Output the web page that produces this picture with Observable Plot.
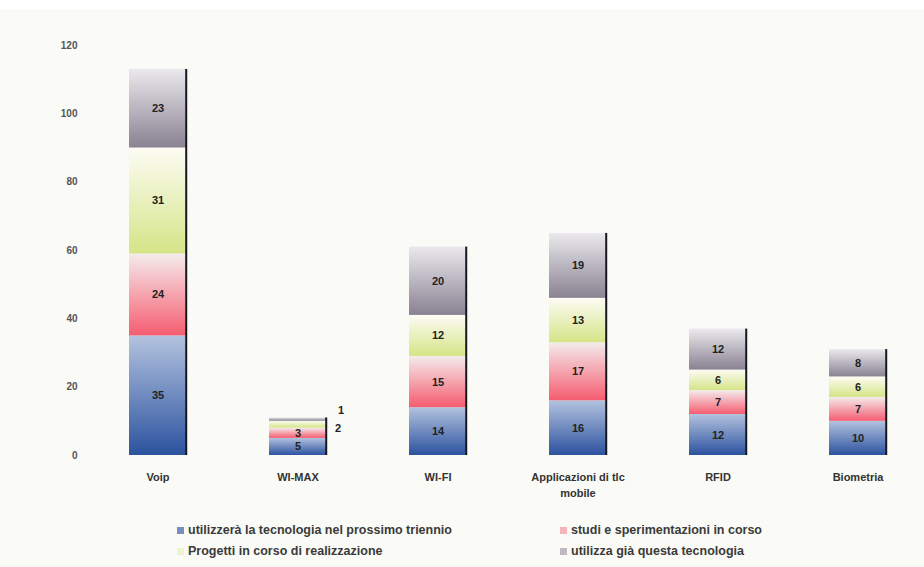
<!DOCTYPE html>
<html>
<head>
<meta charset="utf-8">
<script src="https://cdn.jsdelivr.net/npm/d3@7"></script>
<script src="https://cdn.jsdelivr.net/npm/@observablehq/plot@0.6"></script>
<style>
  html, body { margin: 0; padding: 0; background: #fafaf6; }
  body { width: 924px; height: 567px; position: relative; overflow: hidden;
         font-family: "Liberation Sans", Arial, sans-serif; }
  #topband { position: absolute; left: 0; top: 0; width: 924px; height: 9px; background: #ffffff; }
  #chart { position: absolute; left: 0; top: 0; }
  #legend { position: absolute; left: 0; top: 500px; width: 924px; height: 67px;
            font-size: 12.5px; font-weight: bold; color: #3a3a3a; }
  .item { position: absolute; display: flex; align-items: center; white-space: nowrap; line-height: 14px; }
  .sw { width: 7px; height: 7px; margin-right: 4px; }
</style>
</head>
<body>
<div id="topband"></div>
<div id="chart"></div>
<div id="legend"></div>
<script>
// Technologies (x categories)
const categories = ["Voip", "WI-MAX", "WI-FI", "Applicazioni di tlc\nmobile", "RFID", "Biometria"];

// Series names, bottom to top of each stack
const seriesNames = [
  "utilizzerà la tecnologia nel prossimo triennio",
  "studi e sperimentazioni in corso",
  "Progetti in corso di realizzazione",
  "utilizza già questa tecnologia"
];

// Values per series, one per technology
const prossimoTriennio = [35, 5, 14, 16, 12, 10];
const studiSperimentazioni = [24, 3, 15, 17, 7, 7];
const progettiInCorso = [31, 2, 12, 13, 6, 6];
const utilizzaGia = [23, 1, 20, 19, 12, 8];

// Y axis ticks
const yTicks = [0, 20, 40, 60, 80, 100, 120];

const seriesValues = [prossimoTriennio, studiSperimentazioni, progettiInCorso, utilizzaGia];

// Vertical gradients for each series: light at the top, saturated at the bottom
const gradients = [
  {top: "#b3c3df", bottom: "#2c529f"},
  {top: "#f4ecec", bottom: "#f55c70"},
  {top: "#fcfcf4", bottom: "#d6e487"},
  {top: "#ebe9ed", bottom: "#898292"}
];
const swatches = ["#7a8dbd", "#f4b4ba", "#eef2cf", "#bdbac1"];

const rows = categories.flatMap((category, i) =>
  seriesValues.map((vals, s) => ({category, series: seriesNames[s], si: s, value: vals[i]}))
);
const totals = categories.map((category, i) => ({
  category,
  total: d3.sum(seriesValues, vals => vals[i])
}));

const width = 924, height = 500;
const marginLeft = 101, marginRight = 9;
const paddingInner = 0.59, paddingOuter = 0.2;
const step = (width - marginLeft - marginRight) / (categories.length - paddingInner + 2 * paddingOuter);
const bandwidth = step * (1 - paddingInner);

const labelFont = {fontSize: 11, fontWeight: "bold", fill: "#222"};

const chart = Plot.plot({
  width, height,
  marginTop: 45, marginBottom: 45, marginLeft, marginRight,
  style: {background: "transparent", fontFamily: "Liberation Sans, Arial, sans-serif"},
  x: {domain: categories, paddingInner, paddingOuter, label: null},
  y: {domain: [0, 120], ticks: yTicks, label: null},
  color: {domain: seriesNames, range: seriesNames.map((_, s) => `url(#grad${s})`)},
  marks: [
    Plot.axisY({ticks: yTicks, tickSize: 0, tickPadding: 24, fontSize: 10, fontWeight: "bold", fill: "#555", label: null}),
    Plot.axisX({tickSize: 0, tickPadding: 14, fontSize: 11, fontWeight: "bold", fill: "#333", label: null, lineHeight: 1.45}),
    Plot.barY(rows, {x: "category", y: "value", fill: "series", order: null}),
    Plot.ruleX(totals, {x: "category", y1: 0, y2: "total", dx: bandwidth / 2 - 0.5, stroke: "#16161e", strokeWidth: 2}),
    // labels inside segments
    Plot.text(rows, Plot.filter(d => d.value >= 3,
      Plot.stackY({x: "category", y: "value", text: "value", order: null, ...labelFont}))),
    // labels of thin segments, set beside the bar
    Plot.text(rows, Plot.filter(d => d.value < 3 && d.si === 2,
      Plot.stackY({x: "category", y: "value", text: "value", order: null, dx: 40, dy: 4, ...labelFont}))),
    Plot.text(rows, Plot.filter(d => d.value < 3 && d.si === 3,
      Plot.stackY({x: "category", y: "value", text: "value", order: null, dx: 43, dy: -9, ...labelFont})))
  ]
});

// gradient definitions
const ns = "http://www.w3.org/2000/svg";
const defs = document.createElementNS(ns, "defs");
gradients.forEach((g, s) => {
  const lg = document.createElementNS(ns, "linearGradient");
  lg.setAttribute("id", `grad${s}`);
  lg.setAttribute("x1", "0"); lg.setAttribute("y1", "0");
  lg.setAttribute("x2", "0"); lg.setAttribute("y2", "1");
  [[0, g.top], [1, g.bottom]].forEach(([o, c]) => {
    const st = document.createElementNS(ns, "stop");
    st.setAttribute("offset", o);
    st.setAttribute("stop-color", c);
    lg.appendChild(st);
  });
  defs.appendChild(lg);
});
chart.insertBefore(defs, chart.firstChild);
document.getElementById("chart").appendChild(chart);

// legend in two columns
const legend = document.getElementById("legend");
const legendPos = [[177, 23], [560, 23], [177, 44], [560, 44]];
seriesNames.forEach((name, s) => {
  const item = document.createElement("div");
  item.className = "item";
  item.style.left = legendPos[s][0] + "px";
  item.style.top = legendPos[s][1] + "px";
  const sw = document.createElement("span");
  sw.className = "sw";
  sw.style.background = swatches[s];
  const t = document.createElement("span");
  t.textContent = name;
  item.appendChild(sw);
  item.appendChild(t);
  legend.appendChild(item);
});
</script>
</body>
</html>
